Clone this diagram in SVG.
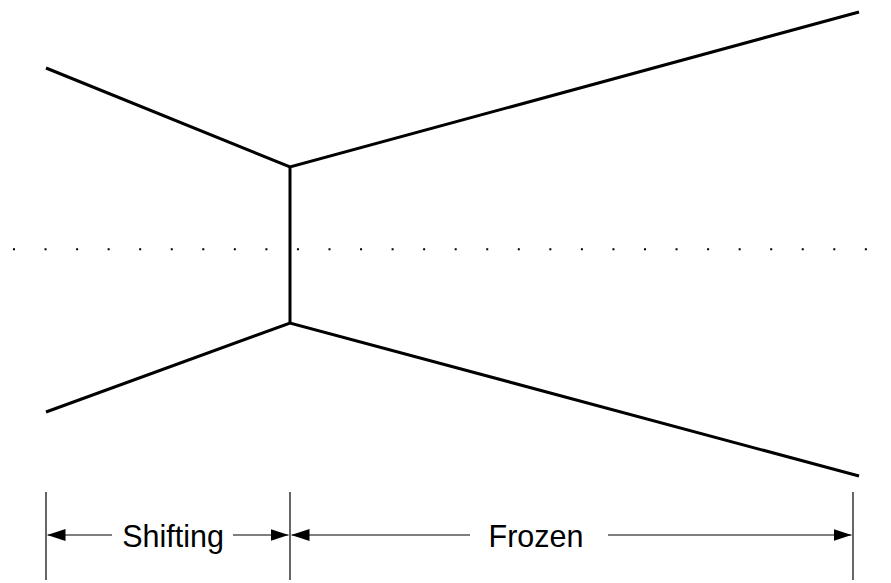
<svg xmlns="http://www.w3.org/2000/svg" width="891" height="583" viewBox="0 0 891 583">
<defs>
<style>
.wall{fill:none;stroke:#000;stroke-width:3;stroke-linejoin:miter}
.dim{fill:none;stroke:#000;stroke-width:1.2}
.lbl{font-family:"Liberation Sans",Arial,sans-serif;font-size:30.5px;fill:#000}
.dots{fill:none;stroke:#000;stroke-width:2;stroke-dasharray:2 29.55}
</style>
<marker id="ah" viewBox="0 0 18 12" refX="18" refY="6" markerWidth="18" markerHeight="12" markerUnits="userSpaceOnUse" orient="auto">
<path d="M0,0 L18,6 L0,12 Z" fill="#000"/>
</marker>
</defs>
<rect width="891" height="583" fill="#fff"/>
<g id="centerline">
<line class="dots" x1="13" y1="249.3" x2="868" y2="249.3"/>
</g>
<g id="profile">
<polyline class="wall" points="46,68 290,167 859,12"/>
<polyline class="wall" points="46,412 290,323 859,476"/>
<line class="wall" x1="290" y1="167" x2="290" y2="323"/>
</g>
<g id="connectors">
<line class="dim" x1="46" y1="492" x2="46" y2="580"/>
<line class="dim" x1="290" y1="492" x2="290" y2="580"/>
<line class="dim" x1="853" y1="492" x2="853" y2="580"/>
<line class="dim" x1="112" y1="535" x2="47.5" y2="535" marker-end="url(#ah)"/>
<line class="dim" x1="233" y1="535" x2="288.5" y2="535" marker-end="url(#ah)"/>
<line class="dim" x1="470" y1="535" x2="291.5" y2="535" marker-end="url(#ah)"/>
<line class="dim" x1="608" y1="535" x2="851.5" y2="535" marker-end="url(#ah)"/>
</g>
<g id="label-shifting">
<text class="lbl" x="173" y="547" text-anchor="middle">Shifting</text>
</g>
<g id="label-frozen">
<text class="lbl" x="536" y="547" text-anchor="middle">Frozen</text>
</g>
</svg>
